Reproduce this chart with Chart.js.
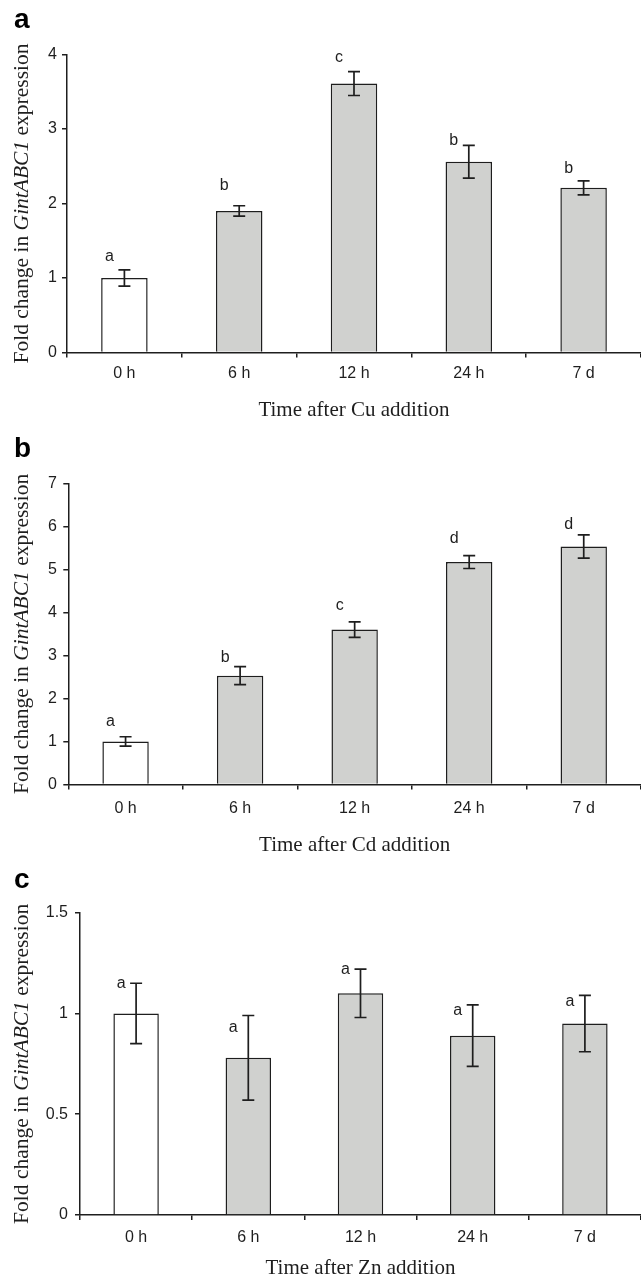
<!DOCTYPE html>
<html>
<head>
<meta charset="utf-8">
<script src="https://cdn.jsdelivr.net/npm/chart.js@4.4.0/dist/chart.umd.min.js"></script>
<style>
  html, body { margin: 0; padding: 0; background: #fff; overflow: hidden; }
  .panel { position: absolute; left: 0; width: 641px; }
  canvas { display: block; }
</style>
</head>
<body>
<div class="panel" id="pa" style="top:0px;height:423px"><canvas id="ca" width="641" height="423"></canvas></div>
<div class="panel" id="pb" style="top:423px;height:435px"><canvas id="cb" width="641" height="435"></canvas></div>
<div class="panel" id="pc" style="top:858px;height:423px"><canvas id="cc" width="641" height="423"></canvas></div>
<script>
// ---- data ----
const categories = ['0 h', '6 h', '12 h', '24 h', '7 d'];

const cuValues = [1.00, 1.90, 3.61, 2.56, 2.21];
const cuErrors = [0.11, 0.07, 0.16, 0.22, 0.095];
const cuLetters = ['a', 'b', 'c', 'b', 'b'];
const cuLetterY = [1.29, 2.24, 3.96, 2.84, 2.47];

const cdValues = [1.00, 2.53, 3.60, 5.17, 5.53];
const cdErrors = [0.11, 0.21, 0.18, 0.15, 0.27];
const cdLetters = ['a', 'b', 'c', 'd', 'd'];
const cdLetterY = [1.47, 2.95, 4.16, 5.71, 6.05];

const znValues = [1.00, 0.78, 1.10, 0.89, 0.95];
const znErrors = [0.15, 0.21, 0.12, 0.153, 0.14];
const znLetters = ['a', 'a', 'a', 'a', 'a'];
const znLetterY = [1.146, 0.929, 1.218, 1.016, 1.06];

const cuTicks = { min: 0, max: 4, step: 1 };
const cdTicks = { min: 0, max: 7, step: 1 };
const znTicks = { min: 0, max: 1.5, step: 0.5 };

// ---- styles ----
const INK = '#1e1e1e';
const GRAY = '#d0d1cf';
const SANS = '"Liberation Sans", Arial, sans-serif';
const SERIF = '"Liberation Serif", "Times New Roman", serif';

const extrasPlugin = {
  id: 'extras',
  afterDatasetsDraw(chart, args, opts) {
    const ctx = chart.ctx;
    const xs = chart.scales.x, ys = chart.scales.y;
    const vals = chart.data.datasets[0].data;
    ctx.save();
    // error bars
    ctx.strokeStyle = INK;
    ctx.lineWidth = 1.7;
    for (let i = 0; i < vals.length; i++) {
      const x = xs.getPixelForValue(i);
      const yt = ys.getPixelForValue(vals[i] + opts.errors[i]);
      const yb = ys.getPixelForValue(vals[i] - opts.errors[i]);
      ctx.beginPath();
      ctx.moveTo(x, yt); ctx.lineTo(x, yb);
      ctx.moveTo(x - 6, yt); ctx.lineTo(x + 6, yt);
      ctx.moveTo(x - 6, yb); ctx.lineTo(x + 6, yb);
      ctx.stroke();
    }
    // significance letters
    ctx.fillStyle = INK;
    ctx.font = '16px ' + SANS;
    ctx.textAlign = 'center';
    ctx.textBaseline = 'middle';
    for (let i = 0; i < vals.length; i++) {
      const x = xs.getPixelForValue(i) - 15;
      const y = ys.getPixelForValue(opts.letterY[i]);
      ctx.fillText(opts.letters[i], x, y);
    }
    ctx.restore();
  },
  afterDraw(chart, args, opts) {
    const ctx = chart.ctx;
    const ca = chart.chartArea;
    ctx.save();
    // panel letter
    ctx.fillStyle = '#000';
    ctx.font = 'bold 28px ' + SANS;
    ctx.textAlign = 'left';
    ctx.textBaseline = 'alphabetic';
    ctx.fillText(opts.panel, 14, opts.panelBaseline);
    // y-axis title with italic gene name
    const parts = [
      { t: 'Fold change in ', f: '21.5px ' + SERIF },
      { t: 'GintABC1', f: 'italic 21.5px ' + SERIF },
      { t: ' expression', f: '21.5px ' + SERIF }
    ];
    let total = 0;
    parts.forEach(p => { ctx.font = p.f; p.w = ctx.measureText(p.t).width; total += p.w; });
    ctx.translate(opts.titleBaselineX, (ca.top + ca.bottom) / 2);
    ctx.rotate(-Math.PI / 2);
    ctx.fillStyle = INK;
    ctx.textBaseline = 'alphabetic';
    let cx = -total / 2;
    parts.forEach(p => { ctx.font = p.f; ctx.fillText(p.t, cx, 0); cx += p.w; });
    ctx.restore();
  }
};

function makeChart(id, cfg) {
  const colors = categories.map((c, i) => i === 0 ? '#ffffff' : GRAY);
  return new Chart(document.getElementById(id), {
    type: 'bar',
    data: {
      labels: categories,
      datasets: [{
        data: cfg.values,
        backgroundColor: colors,
        borderColor: INK,
        borderWidth: 1.5,
        categoryPercentage: 1.0,
        barPercentage: 0.405
      }]
    },
    options: {
      responsive: false,
      animation: false,
      events: [],
      layout: { padding: { top: cfg.padTop, left: 0, right: 0, bottom: 0 } },
      plugins: {
        legend: { display: false },
        tooltip: { enabled: false },
        extras: {
          errors: cfg.errors, letters: cfg.letters, letterY: cfg.letterY,
          panel: cfg.panel, panelBaseline: cfg.panelBaseline, titleBaselineX: 28
        }
      },
      scales: {
        x: {
          grid: { display: true, drawOnChartArea: false, drawTicks: true, tickLength: 5,
                  color: INK, lineWidth: 1.5, offset: true },
          border: { display: true, color: INK, width: 1.5 },
          ticks: { font: { family: SANS, size: 16 }, color: INK, padding: cfg.xPad },
          title: { display: true, text: cfg.xTitle, color: INK,
                   font: { family: SERIF, size: 21 }, padding: { top: 0, bottom: 0 } },
          afterFit(scale) { scale.height = cfg.xHeight; }
        },
        y: {
          min: cfg.ticks.min, max: cfg.ticks.max,
          grid: { display: true, drawOnChartArea: false, drawTicks: true, tickLength: 5,
                  color: INK, lineWidth: 1.5 },
          border: { display: true, color: INK, width: 1.5 },
          ticks: { stepSize: cfg.ticks.step, font: { family: SANS, size: 16 }, color: INK,
                   padding: cfg.yPad, callback: v => String(Number(v.toFixed(2))) },
          afterFit(scale) { scale.width = cfg.yWidth; }
        }
      }
    },
    plugins: [extrasPlugin]
  });
}

makeChart('ca', {
  values: cuValues, errors: cuErrors, letters: cuLetters, letterY: cuLetterY,
  ticks: cuTicks, xTitle: 'Time after Cu addition', panel: 'a', panelBaseline: 28,
  padTop: 54.5, xHeight: 70.5, yWidth: 67, xPad: 6, yPad: 5
});
makeChart('cb', {
  values: cdValues, errors: cdErrors, letters: cdLetters, letterY: cdLetterY,
  ticks: cdTicks, xTitle: 'Time after Cd addition', panel: 'b', panelBaseline: 34,
  padTop: 60.3, xHeight: 73.5, yWidth: 68.3, xPad: 9, yPad: 6.5
});
makeChart('cc', {
  values: znValues, errors: znErrors, letters: znLetters, letterY: znLetterY,
  ticks: znTicks, xTitle: 'Time after Zn addition', panel: 'c', panelBaseline: 30,
  padTop: 54.7, xHeight: 66, yWidth: 80, xPad: 8, yPad: 7
});
</script>
</body>
</html>
